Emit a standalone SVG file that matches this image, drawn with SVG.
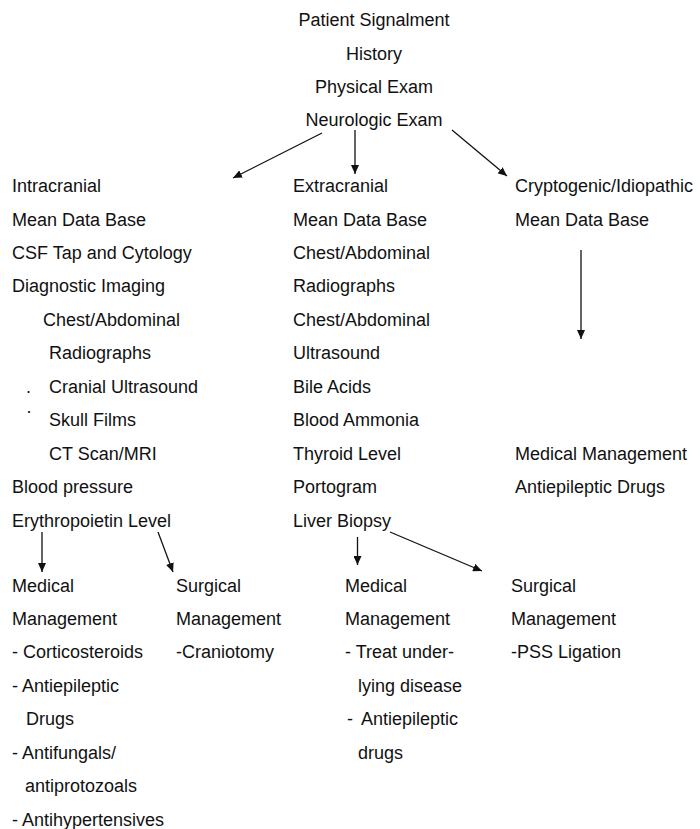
<svg xmlns="http://www.w3.org/2000/svg" width="700" height="829" viewBox="0 0 700 829">
<style>
text{font-family:"Liberation Sans",Arial,sans-serif;font-size:18px;fill:#111}
.c{text-anchor:middle}
.ln{stroke:#111;stroke-width:1.3;fill:none}
</style>
<defs>
<marker id="ah" markerUnits="userSpaceOnUse" markerWidth="10" markerHeight="8" refX="9" refY="4" orient="auto">
<path d="M0,0 L9,4 L0,8 Z" fill="#111"/>
</marker>
</defs>
<rect width="700" height="829" fill="#fff"/>
<g id="top">
<text class="c" x="374" y="26">Patient Signalment</text>
<text class="c" x="374" y="59.5">History</text>
<text class="c" x="374" y="93">Physical Exam</text>
<text class="c" x="374" y="126">Neurologic Exam</text>
</g>
<g id="intracranial">
<text x="12" y="192">Intracranial</text>
<text x="12" y="225.5">Mean Data Base</text>
<text x="12" y="258.9">CSF Tap and Cytology</text>
<text x="12" y="292.4">Diagnostic Imaging</text>
<text x="43" y="325.8">Chest/Abdominal</text>
<text x="49" y="359.3">Radiographs</text>
<text x="26" y="392.7">.</text>
<text x="49" y="392.7">Cranial Ultrasound</text>
<text x="26" y="417">·</text>
<text x="49" y="426.2">Skull Films</text>
<text x="49" y="459.6">CT Scan/MRI</text>
<text x="12" y="493.1">Blood pressure</text>
<text x="12" y="526.5">Erythropoietin Level</text>
</g>
<g id="extracranial">
<text x="293" y="192">Extracranial</text>
<text x="293" y="225.5">Mean Data Base</text>
<text x="293" y="258.9">Chest/Abdominal</text>
<text x="293" y="292.4">Radiographs</text>
<text x="293" y="325.8">Chest/Abdominal</text>
<text x="293" y="359.3">Ultrasound</text>
<text x="293" y="392.7">Bile Acids</text>
<text x="293" y="426.2">Blood Ammonia</text>
<text x="293" y="459.6">Thyroid Level</text>
<text x="293" y="493.1">Portogram</text>
<text x="293" y="526.5">Liver Biopsy</text>
</g>
<g id="cryptogenic">
<text x="515" y="192">Cryptogenic/Idiopathic</text>
<text x="515" y="225.5">Mean Data Base</text>
</g>
<g id="crypto-management">
<text x="515" y="459.6">Medical Management</text>
<text x="515" y="493.1">Antiepileptic Drugs</text>
</g>
<g id="intra-medical">
<text x="12" y="591.5">Medical</text>
<text x="12" y="625">Management</text>
<text x="12" y="658.4">- Corticosteroids</text>
<text x="12" y="691.9">- Antiepileptic</text>
<text x="26" y="725.3">Drugs</text>
<text x="12" y="758.8">- Antifungals/</text>
<text x="25" y="792.2">antiprotozoals</text>
<text x="12" y="825.7">- Antihypertensives</text>
</g>
<g id="intra-surgical">
<text x="176" y="591.5">Surgical</text>
<text x="176" y="625">Management</text>
<text x="176" y="658.4">-Craniotomy</text>
</g>
<g id="extra-medical">
<text x="345" y="591.5">Medical</text>
<text x="345" y="625">Management</text>
<text x="345" y="658.4">- Treat under-</text>
<text x="358" y="691.9">lying disease</text>
<text x="347" y="725.3">-</text>
<text x="361" y="725.3">Antiepileptic</text>
<text x="358" y="758.8">drugs</text>
</g>
<g id="extra-surgical">
<text x="511" y="591.5">Surgical</text>
<text x="511" y="625">Management</text>
<text x="511" y="658.4">-PSS Ligation</text>
</g>
<g id="connectors">
<line class="ln" x1="322" y1="133" x2="233" y2="178" marker-end="url(#ah)"/>
<line class="ln" x1="355" y1="130" x2="355" y2="174" marker-end="url(#ah)"/>
<line class="ln" x1="452" y1="130" x2="507" y2="176" marker-end="url(#ah)"/>
<line class="ln" x1="581" y1="250" x2="581" y2="339" stroke="#333" marker-end="url(#ah)"/>
<line class="ln" x1="42" y1="532" x2="42" y2="572" marker-end="url(#ah)"/>
<line class="ln" x1="158" y1="532" x2="173" y2="572" marker-end="url(#ah)"/>
<line class="ln" x1="357.5" y1="537" x2="357.5" y2="565" marker-end="url(#ah)"/>
<line class="ln" x1="390" y1="532" x2="482" y2="571" marker-end="url(#ah)"/>
</g>
</svg>
